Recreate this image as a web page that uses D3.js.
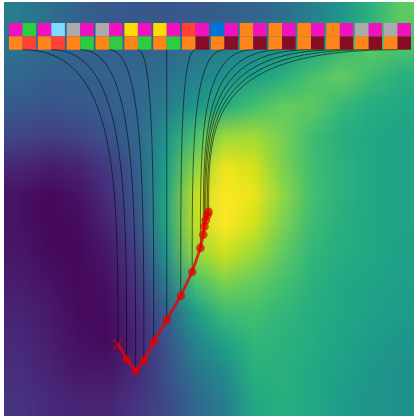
<!DOCTYPE html>
<html>
<head>
<meta charset="utf-8">
<script src="https://cdnjs.cloudflare.com/ajax/libs/d3/7.8.5/d3.min.js"></script>
<style>
body { margin: 0; background: #fff; }
svg { display: block; }
</style>
</head>
<body>
<div id="chart"></div>
<script>
// ARC colour palette used for the little task cells
var arc_colors = {
    blue: '#0074D9', red: '#FF4136', green: '#2ECC40', yellow: '#FFDC00',
    gray: '#AAAAAA', magenta: '#F012BE', orange: '#FF851B',
    lightblue: '#7FDBFF', maroon: '#870C25'
};

// each pair is [left, right]
var pair_top = [
    ['magenta', 'green'], ['magenta', 'lightblue'], ['gray', 'magenta'], ['gray', 'magenta'],
    ['yellow', 'magenta'], ['yellow', 'magenta'], ['red', 'magenta'], ['blue', 'magenta'],
    ['orange', 'magenta'], ['orange', 'magenta'], ['orange', 'magenta'], ['orange', 'magenta'],
    ['gray', 'magenta'], ['gray', 'magenta']
];
var pair_bottom = [
    ['orange', 'red'], ['orange', 'red'], ['orange', 'green'], ['orange', 'green'],
    ['orange', 'green'], ['orange', 'green'], ['orange', 'maroon'], ['orange', 'maroon'],
    ['orange', 'maroon'], ['orange', 'maroon'], ['orange', 'maroon'], ['orange', 'maroon'],
    ['orange', 'maroon'], ['orange', 'maroon']
];

// trajectory, one step per pair (step 0 is the start)
var step_x = [27.8, 29.9, 32.1, 34.1, 36.5, 39.7, 43.1, 45.9, 47.9, 48.6, 48.9, 49.2, 49.6, 49.9];
var step_y = [82.7, 86.3, 89.1, 86.6, 82.1, 76.8, 71.0, 65.2, 59.4, 56.2, 54.2, 52.7, 51.5, 50.7];

// background field, 14 x 14 samples (rows top to bottom)
var field = [
    [0.42, 0.36, 0.31, 0.28, 0.27, 0.27, 0.28, 0.30, 0.32, 0.36, 0.43, 0.52, 0.64, 0.75],
    [0.38, 0.34, 0.32, 0.31, 0.31, 0.33, 0.37, 0.42, 0.46, 0.51, 0.58, 0.67, 0.75, 0.72],
    [0.33, 0.30, 0.30, 0.31, 0.33, 0.37, 0.43, 0.50, 0.56, 0.63, 0.71, 0.76, 0.69, 0.63],
    [0.28, 0.26, 0.27, 0.29, 0.33, 0.42, 0.52, 0.62, 0.70, 0.76, 0.75, 0.67, 0.62, 0.60],
    [0.21, 0.19, 0.21, 0.25, 0.33, 0.50, 0.70, 0.85, 0.86, 0.79, 0.69, 0.63, 0.60, 0.58],
    [0.11, 0.08, 0.10, 0.17, 0.30, 0.55, 0.82, 0.97, 0.93, 0.80, 0.69, 0.64, 0.60, 0.58],
    [0.05, 0.02, 0.05, 0.13, 0.27, 0.58, 0.90, 1.00, 0.97, 0.83, 0.70, 0.64, 0.60, 0.58],
    [0.05, 0.02, 0.03, 0.09, 0.24, 0.58, 0.90, 1.00, 0.93, 0.80, 0.68, 0.63, 0.60, 0.58],
    [0.06, 0.03, 0.02, 0.06, 0.19, 0.50, 0.84, 0.92, 0.85, 0.75, 0.66, 0.62, 0.60, 0.57],
    [0.08, 0.05, 0.02, 0.04, 0.15, 0.40, 0.70, 0.80, 0.76, 0.70, 0.64, 0.60, 0.58, 0.56],
    [0.10, 0.07, 0.03, 0.03, 0.12, 0.30, 0.55, 0.68, 0.70, 0.66, 0.62, 0.60, 0.57, 0.55],
    [0.12, 0.08, 0.04, 0.03, 0.10, 0.25, 0.45, 0.57, 0.66, 0.64, 0.62, 0.58, 0.55, 0.52],
    [0.13, 0.10, 0.06, 0.06, 0.12, 0.24, 0.38, 0.48, 0.63, 0.64, 0.60, 0.57, 0.53, 0.50],
    [0.15, 0.12, 0.10, 0.10, 0.15, 0.22, 0.33, 0.42, 0.60, 0.63, 0.60, 0.55, 0.52, 0.50]
];

var width = 414, height = 417;

var x = d3.scaleLinear().domain([0, 100]).range([4, 414]);
var y = d3.scaleLinear().domain([0, 100]).range([2, 416]);
var color = d3.scaleSequential(d3.interpolateViridis).domain([0, 1]);

var svg = d3.select('#chart').append('svg')
    .attr('width', width)
    .attr('height', height);

function fieldImage(grid) {
    // paint the samples into a tiny canvas, the browser smooths it when scaled up
    var rows = grid.length, cols = grid[0].length;
    var canvas = document.createElement('canvas');
    canvas.width = cols;
    canvas.height = rows;
    var ctx = canvas.getContext('2d');
    var img = ctx.createImageData(cols, rows);
    grid.forEach(function(row, j) {
	row.forEach(function(v, i) {
	    var c = d3.rgb(color(v)), k = (j * cols + i) * 4;
	    img.data[k] = c.r;
	    img.data[k + 1] = c.g;
	    img.data[k + 2] = c.b;
	    img.data[k + 3] = 255;
	});
    });
    ctx.putImageData(img, 0, 0);
    return canvas.toDataURL();
}

svg.append('image')
    .attr('x', x(0))
    .attr('y', y(0))
    .attr('width', x(100) - x(0))
    .attr('height', y(100) - y(0))
    .attr('preserveAspectRatio', 'none')
    .attr('href', fieldImage(field));

// task cells along the top
var band = d3.scaleBand()
    .domain(d3.range(pair_top.length))
    .range([9, 411])
    .paddingInner(0.0625);
var cell_h = 13.35, row_top = 23;

var g_pairs = svg.append('g');
[pair_top, pair_bottom].forEach(function(rowdata, r) {
    rowdata.forEach(function(pair, i) {
	pair.forEach(function(name, k) {
	    g_pairs.append('rect')
		.attr('x', band(i) + k * band.bandwidth() / 2)
		.attr('y', row_top + r * cell_h)
		.attr('width', band.bandwidth() / 2)
		.attr('height', cell_h)
		.attr('fill', arc_colors[name]);
	});
    });
});

var steps = step_x.map(function(v, i) { return {x: v, y: step_y[i]}; });

function link(d, i) {
    var x0 = band(i) + band.bandwidth() / 2,
	y0 = row_top + 2 * cell_h,
	x1 = x(d.x),
	y1 = y(d.y);
    var p = d3.path();
    p.moveTo(x0, y0);
    p.bezierCurveTo(x1, y0, x1, y0 + 0.45 * (y1 - y0), x1, y1);
    return p.toString();
}

svg.append('g').selectAll('path')
    .data(steps)
    .enter().append('path')
    .attr('d', link)
    .attr('fill', 'none')
    .attr('stroke', '#000')
    .attr('stroke-opacity', 0.55)
    .attr('stroke-width', 1);

// trajectory
svg.append('path')
    .datum(steps)
    .attr('d', d3.line().x(function(d) { return x(d.x); }).y(function(d) { return y(d.y); }))
    .attr('fill', 'none')
    .attr('stroke', '#ee0000')
    .attr('stroke-opacity', 0.8)
    .attr('stroke-width', 2.8);

svg.append('g').selectAll('circle')
    .data(steps.slice(1))
    .enter().append('circle')
    .attr('cx', function(d) { return x(d.x); })
    .attr('cy', function(d) { return y(d.y); })
    .attr('r', 4.3)
    .attr('fill', '#e00000')
    .attr('fill-opacity', 0.7);

// start marker
var s = steps[0], m = 5;
svg.append('path')
    .attr('d', 'M' + (x(s.x) - m) + ',' + (y(s.y) - m) + 'L' + (x(s.x) + m) + ',' + (y(s.y) + m) +
	  'M' + (x(s.x) - m) + ',' + (y(s.y) + m) + 'L' + (x(s.x) + m) + ',' + (y(s.y) - m))
    .attr('stroke', '#e00000')
    .attr('stroke-opacity', 0.85)
    .attr('stroke-width', 1.4);
</script>
</body>
</html>
